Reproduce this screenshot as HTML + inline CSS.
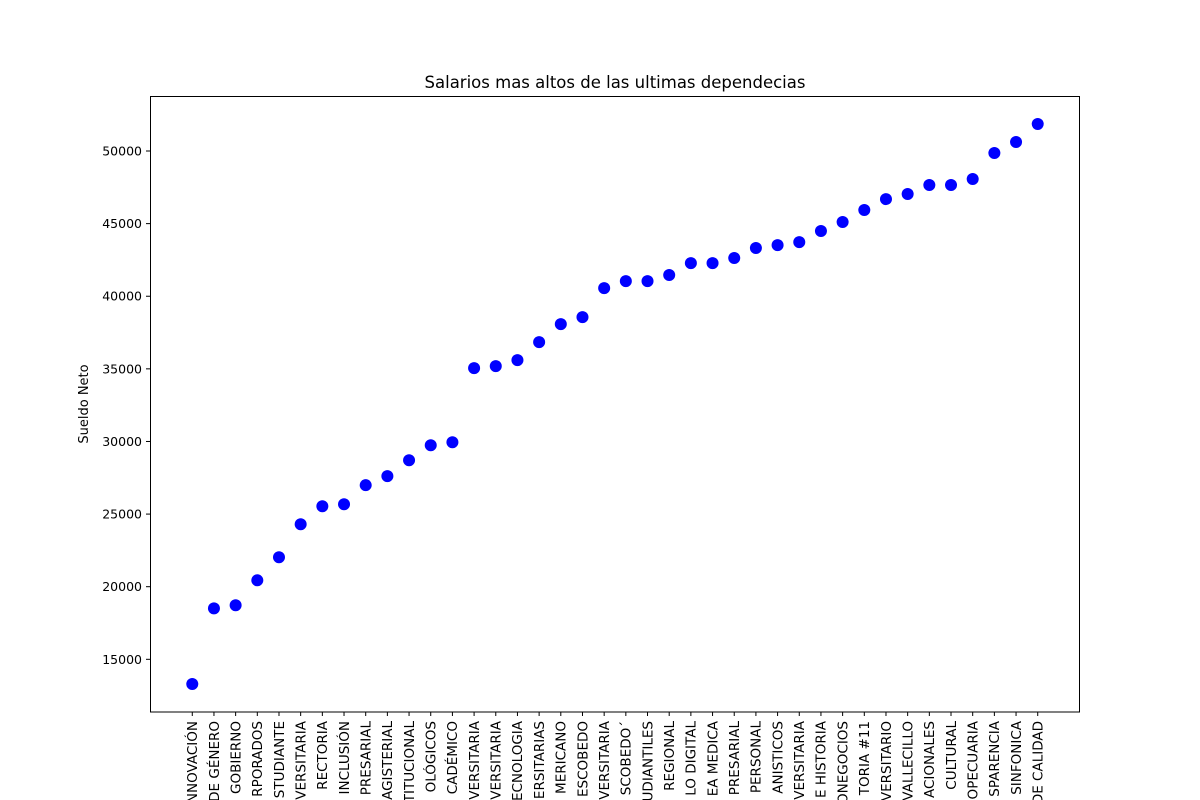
<!DOCTYPE html>
<html><head><meta charset="utf-8"><style>
body{margin:0;background:#fff;overflow:hidden;}
svg{display:block;font-family:"DejaVu Sans","Liberation Sans",sans-serif;}
</style></head><body>
<svg id="chart" width="1200" height="800">
<text x="615" y="88" text-anchor="middle" font-size="16.5">Salarios mas altos de las ultimas dependecias</text>
<text transform="translate(88,404) rotate(-90)" text-anchor="middle" font-size="13">Sueldo Neto</text>
<g id="yticks"></g><g id="xticks"></g><g id="pts"></g>
<rect x="150.5" y="96.5" width="929" height="615.5" fill="none" stroke="#000" stroke-width="1"/>
</svg>
<script>
const categories=["NNOVACIÓN","DE GÉNERO","GOBIERNO","RPORADOS","STUDIANTE","VERSITARIA","RECTORIA","INCLUSIÓN","PRESARIAL","AGISTERIAL","TITUCIONAL","OLÓGICOS","CADÉMICO","VERSITARIA","VERSITARIA","ECNOLOGIA","ERSITARIAS","MERICANO","ESCOBEDO","VERSITARIA","SCOBEDO´","UDIANTILES","REGIONAL","LO DIGITAL","EA MEDICA","PRESARIAL","PERSONAL","ANISTICOS","VERSITARIA","E HISTORIA","ONEGOCIOS","TORIA #11","VERSITARIO","VALLECILLO","ACIONALES","CULTURAL","OPECUARIA","SPARENCIA","SINFONICA","DE CALIDAD"];
const salaries=[13300,18510,18720,20440,22030,24300,25540,25680,26990,27610,28710,29740,29950,35050,35190,35600,36840,38080,38560,40560,41040,41040,41460,42280,42280,42630,43320,43520,43730,44490,45110,45940,46690,47040,47660,47660,48070,49860,50620,51860];
const yTicks=[15000,20000,25000,30000,35000,40000,45000,50000];
const NS="http://www.w3.org/2000/svg";
const L=150,R=1080,T=96,B=712;
const n=categories.length;
const xmin=-0.05*(n-1),xmax=(n-1)*1.05;
const dmin=Math.min(...salaries),dmax=Math.max(...salaries),pad=(dmax-dmin)*0.05;
const ymin=dmin-pad,ymax=dmax+pad;
const xs=i=>L+(i-xmin)/(xmax-xmin)*(R-L);
const ys=v=>B-(v-ymin)/(ymax-ymin)*(B-T);
function mk(tag,attrs,parent){const e=document.createElementNS(NS,tag);for(const k in attrs)e.setAttribute(k,attrs[k]);parent.appendChild(e);return e;}
const yg=document.getElementById('yticks');
yTicks.forEach(v=>{const y=ys(v);
 const l=mk('line',{x1:146,x2:150,y1:y,y2:y,stroke:'#000'},yg);
 
 
 const t=mk('text',{x:142,y:y+4.5,'text-anchor':'end','font-size':'12.5'},yg);t.textContent=v;
 
 
});
const xg=document.getElementById('xticks');
categories.forEach((c,i)=>{const x=xs(i);
 const l=mk('line',{x1:x,x2:x,y1:712,y2:716,stroke:'#000'},xg);
 
 
 const t=mk('text',{transform:`translate(${x+4.8},721) rotate(-90)`,'text-anchor':'end','font-size':'13.5'},xg);t.textContent=c;
 
 
});
const pg=document.getElementById('pts');
salaries.forEach((v,i)=>{
 const p=mk('circle',{cx:xs(i),cy:ys(v),r:6,fill:'#0000ff'},pg);
 
 
});
</script>
</body></html>
